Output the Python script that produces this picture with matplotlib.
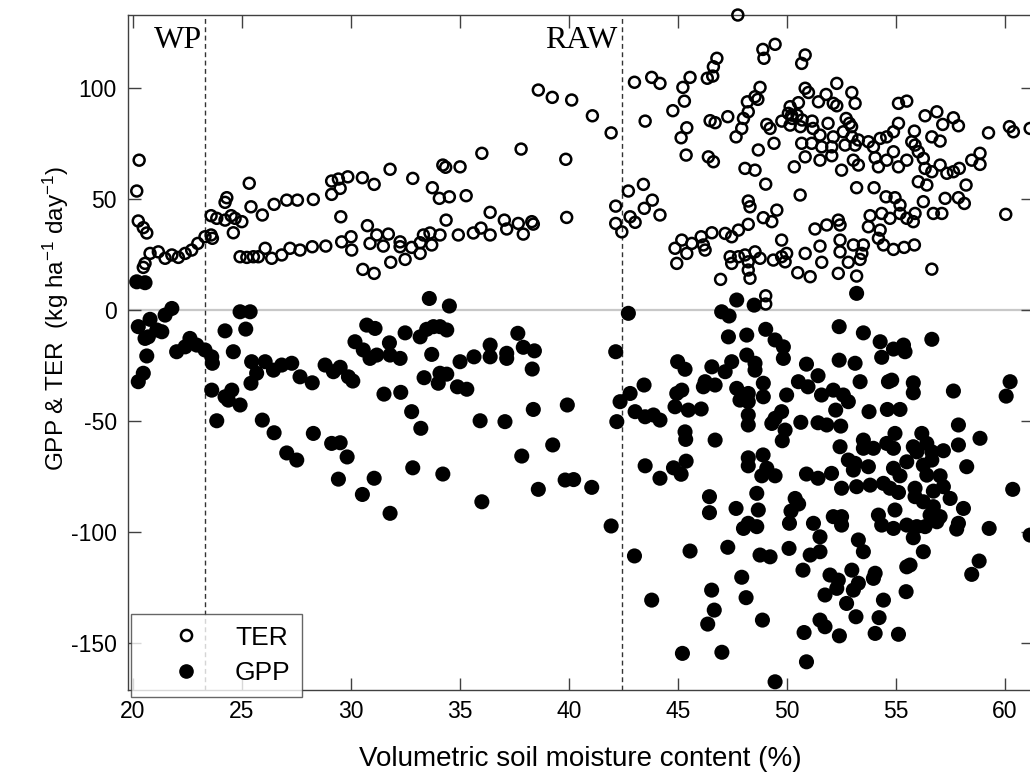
import matplotlib
matplotlib.use("Agg")
import matplotlib.pyplot as plt
from matplotlib.lines import Line2D

plt.rcParams['font.family'] = ['Liberation Sans', 'DejaVu Sans']
plt.rcParams['mathtext.fontset'] = 'custom'
plt.rcParams['mathtext.rm'] = 'Liberation Sans'
plt.rcParams['mathtext.it'] = 'Liberation Sans:italic'
plt.rcParams['axes.unicode_minus'] = False

# ---------------- data ----------------
ter_x = [20.28, 20.17, 20.24, 20.47, 20.63, 25.33, 24.30, 24.22, 23.58, 23.84, 24.22, 24.50, 24.68, 24.99,
         25.41, 25.93, 26.47, 27.05, 27.54, 28.27, 29.11, 29.42, 29.85, 29.50, 29.11, 29.53, 20.78, 21.16,
         21.47, 21.78, 22.08, 22.39, 22.69, 22.97, 23.30, 23.58, 23.64, 20.55, 20.47, 24.60, 24.91, 25.22,
         25.52, 25.75, 26.06, 26.36, 26.82, 27.20, 27.66, 28.22, 28.84, 29.57, 30.00, 30.03, 38.59, 39.23,
         40.12, 36.00, 37.80, 39.85, 31.79, 30.52, 31.06, 32.83, 34.21, 34.34, 35.00, 33.73, 34.05, 34.51,
         35.28, 36.38, 37.03, 37.67, 38.29, 38.36, 39.89, 34.36, 30.75, 31.18, 31.71, 33.32, 33.62, 34.08,
         34.92, 35.61, 35.96, 36.38, 37.14, 37.90, 30.87, 31.48, 32.25, 32.25, 32.78, 33.17, 33.17, 33.70,
         32.48, 31.82, 30.54, 31.06, 47.74, 49.45, 48.89, 48.94, 46.78, 46.62, 46.59, 46.34, 43.00, 43.79,
         44.17, 45.55, 45.22, 45.29, 44.76, 41.07, 41.93, 43.49, 46.47, 46.70, 47.28, 48.76, 48.53, 48.66,
         48.18, 48.22, 48.00, 47.92, 47.66, 45.40, 45.14, 45.37, 46.39, 46.62, 48.68, 49.40, 49.07, 49.22,
         48.07, 48.53, 49.02, 50.33, 50.14, 50.06, 50.21, 49.76, 50.14, 50.52, 50.83, 50.67, 50.83, 50.67,
         50.83, 50.60, 42.72, 43.41, 43.82, 42.14, 43.45, 44.17, 42.80, 43.03, 42.14, 48.22, 48.30, 49.53,
         48.91, 49.30, 48.22, 42.42, 45.17, 44.86, 44.94, 45.40, 45.63, 46.06, 46.16, 46.24, 46.55, 47.16,
         47.46, 47.77, 49.75, 47.39, 47.46, 47.77, 48.07, 48.22, 48.22, 48.30, 48.53, 48.76, 49.37, 49.75,
         49.98, 49.91, 50.49, 50.83, 46.95, 49.02, 49.02, 52.28, 50.98, 51.79, 52.97, 51.44, 52.12, 52.28,
         53.12, 55.11, 55.49, 56.33, 56.87, 57.63, 57.14, 57.86, 59.24, 60.20, 60.38, 61.15, 50.23, 50.46,
         50.69, 51.15, 50.61, 51.19, 51.88, 52.71, 52.86, 52.96, 52.58, 51.51, 52.12, 52.97, 53.27, 51.13,
         51.59, 52.05, 52.66, 53.12, 53.73, 54.27, 54.57, 54.88, 55.11, 55.84, 55.72, 55.87, 53.96, 54.88,
         51.51, 52.05, 53.04, 53.27, 52.50, 54.04, 54.19, 54.57, 55.11, 55.49, 56.02, 56.25, 56.33, 56.64,
         57.02, 57.33, 57.63, 57.90, 56.64, 57.02, 58.47, 58.85, 58.85, 56.02, 56.41, 53.19, 53.99, 54.54,
         54.95, 55.18, 56.25, 57.25, 57.86, 58.21, 58.13, 60.03, 53.81, 54.34, 54.72, 55.18, 55.49, 55.87,
         55.79, 56.71, 57.10, 51.28, 51.82, 52.35, 52.43, 53.73, 54.27, 51.51, 52.43, 52.43, 53.04, 53.50,
         53.43, 53.35, 52.81, 51.59, 51.06, 52.35, 53.19, 54.19, 54.42, 54.88, 55.37, 55.84, 56.64]
ter_y = [67.3, 53.4, 39.9, 36.9, 34.5, 56.9, 50.4, 48.3, 42.3, 41.1, 40.3, 42.3, 41.1, 39.6,
         46.3, 42.6, 47.4, 49.3, 49.3, 49.6, 57.9, 58.8, 59.8, 54.6, 51.9, 41.8, 25.3, 26.0,
         23.1, 24.6, 23.5, 25.3, 26.8, 29.8, 32.8, 33.6, 32.1, 20.8, 19.0, 34.6, 23.8, 23.5,
         23.8, 23.8, 27.6, 23.1, 24.6, 27.6, 26.8, 28.3, 28.6, 30.5, 32.8, 26.8, 98.9, 95.6,
         94.4, 70.4, 72.3, 67.7, 63.2, 59.4, 56.4, 59.1, 65.1, 64.1, 64.3, 54.9, 50.1, 50.8,
         51.3, 43.8, 40.3, 38.8, 39.6, 38.5, 41.5, 40.3, 37.8, 33.6, 34.0, 33.6, 34.5, 33.6,
         33.6, 34.5, 36.7, 33.6, 36.3, 34.0, 29.8, 28.6, 30.5, 28.3, 28.0, 30.1, 25.3, 29.1,
         22.6, 21.3, 18.1, 16.3, 132.7, 119.5, 117.2, 113.2, 113.2, 109.4, 105.2, 104.2, 102.4, 104.6,
         101.9, 104.6, 100.1, 93.9, 89.6, 87.3, 79.6, 84.9, 85.1, 84.2, 86.9, 100.1, 95.9, 94.7,
         93.6, 89.1, 86.1, 81.6, 77.8, 81.9, 77.4, 69.6, 68.8, 66.6, 71.9, 74.9, 83.4, 81.6,
         63.6, 62.8, 56.5, 64.3, 91.4, 88.4, 87.6, 84.9, 83.1, 93.2, 99.7, 110.9, 114.7, 74.9,
         68.8, 51.6, 53.4, 56.4, 49.3, 46.6, 45.6, 42.6, 41.8, 39.3, 38.8, 48.9, 46.3, 44.8,
         41.4, 39.6, 38.4, 35.0, 31.3, 27.6, 20.8, 25.3, 29.8, 32.8, 29.1, 26.8, 34.6, 34.3,
         32.8, 35.8, 31.3, 23.8, 20.8, 23.8, 24.6, 21.5, 17.8, 14.1, 26.0, 23.1, 22.3, 23.8,
         25.3, 21.5, 16.6, 25.3, 13.6, 6.2, 2.5, 101.9, 97.8, 96.9, 97.8, 93.6, 92.9, 91.8,
         92.9, 92.9, 93.9, 87.3, 89.1, 86.4, 83.4, 82.8, 79.6, 82.4, 80.1, 81.6, 86.1, 87.6,
         85.4, 84.9, 82.4, 81.6, 83.9, 86.1, 83.9, 82.4, 80.1, 78.6, 77.8, 77.8, 76.4, 74.9,
         73.3, 73.3, 74.1, 74.1, 75.6, 77.1, 77.8, 80.1, 83.9, 80.4, 75.6, 74.1, 73.3, 71.1,
         67.3, 69.3, 67.3, 65.1, 62.8, 68.4, 64.3, 67.3, 64.3, 67.3, 71.1, 68.1, 63.6, 62.1,
         65.1, 61.4, 62.1, 63.6, 77.8, 75.9, 67.3, 70.4, 65.4, 57.6, 56.1, 54.9, 54.9, 50.8,
         50.4, 47.1, 48.6, 50.1, 50.4, 56.1, 47.8, 42.9, 42.3, 43.3, 41.1, 43.3, 41.1, 43.3,
         39.6, 43.3, 43.3, 36.3, 38.1, 40.3, 38.1, 37.3, 35.8, 28.6, 31.3, 26.0, 29.1, 29.1,
         25.3, 22.6, 21.3, 21.3, 14.8, 16.3, 15.1, 32.1, 29.1, 27.1, 28.0, 29.1, 18.2]

gpp_x = [20.17, 20.55, 21.78, 21.47, 20.24, 20.78, 21.09, 21.32, 20.70, 20.55, 20.63, 20.47, 20.24, 22.00,
         22.61, 22.92, 23.30, 23.61, 23.64, 22.39, 24.91, 25.37, 24.22, 25.17, 24.60, 25.44, 26.06, 25.67,
         25.41, 26.44, 26.82, 27.28, 27.66, 28.22, 28.81, 29.50, 29.19, 29.88, 30.18, 23.61, 24.22, 24.53,
         24.37, 24.91, 23.84, 25.93, 26.47, 28.27, 29.11, 29.50, 27.05, 27.51, 29.82, 29.42, 33.59, 34.51,
         30.72, 31.10, 32.48, 33.17, 33.47, 33.78, 34.08, 34.39, 30.56, 30.87, 31.18, 31.76, 31.79, 32.25,
         33.70, 35.00, 35.64, 36.38, 36.38, 37.14, 37.14, 37.65, 37.90, 38.41, 38.31, 30.08, 33.35, 34.08,
         34.39, 34.00, 34.88, 35.31, 31.51, 32.28, 32.78, 33.20, 35.92, 37.06, 38.36, 39.92, 39.25, 37.83,
         31.06, 30.52, 31.79, 32.83, 34.21, 36.00, 38.59, 39.82, 40.21, 41.04, 41.93, 43.49, 44.17, 44.79,
         45.14, 45.37, 43.00, 43.79, 45.55, 45.20, 46.44, 46.44, 47.66, 48.00, 48.22, 48.61, 48.61, 48.68,
         47.28, 48.76, 49.22, 50.09, 47.92, 46.54, 48.12, 46.66, 46.36, 48.87, 47.01, 49.45, 48.22, 48.22,
         48.90, 49.07, 48.84, 49.45, 50.37, 50.53, 50.18, 50.11, 50.89, 50.73, 50.78, 50.89, 47.69, 48.49,
         42.72, 47.00, 47.34, 42.14, 47.31, 48.15, 49.02, 49.45, 49.83, 49.83, 44.98, 45.32, 46.55, 47.16,
         47.46, 48.15, 48.53, 48.53, 46.24, 46.70, 46.16, 47.69, 47.84, 48.22, 48.22, 48.91, 48.91, 49.98,
         50.52, 50.89, 43.44, 42.80, 42.34, 44.94, 45.17, 44.86, 43.03, 43.49, 43.87, 44.17, 45.47, 46.06,
         42.19, 48.22, 48.22, 49.75, 49.45, 49.30, 49.91, 49.78, 50.63, 45.32, 45.35, 46.70, 53.19, 52.39,
         53.50, 54.27, 54.34, 54.88, 55.34, 55.41, 56.64, 52.39, 53.12, 51.42, 50.96, 51.58, 52.12, 52.58,
         52.81, 52.23, 53.35, 54.65, 54.80, 55.79, 55.79, 57.63, 60.23, 60.05, 53.76, 54.60, 55.18, 51.42,
         51.82, 52.46, 57.86, 58.85, 57.86, 56.18, 54.95, 52.43, 53.50, 53.50, 53.96, 54.57, 54.88, 55.79,
         56.41, 55.95, 56.64, 57.17, 52.81, 53.12, 53.73, 51.42, 52.04, 52.50, 53.04, 53.19, 53.81, 54.42,
         54.72, 55.11, 54.88, 55.18, 55.49, 56.25, 56.64, 56.41, 55.87, 55.87, 57.02, 57.17, 56.71, 57.48,
         56.25, 56.71, 56.56, 57.02, 56.87, 58.09, 57.86, 57.78, 58.24, 60.35, 59.27, 61.15, 51.21, 51.51,
         51.06, 51.51, 52.12, 52.50, 52.50, 53.27, 53.50, 54.19, 54.34, 54.95, 54.88, 55.49, 55.95, 56.33,
         55.79, 56.25, 55.49, 55.64, 55.46, 54.04, 53.96, 52.97, 51.97, 52.35, 52.28, 51.74, 53.27, 53.04,
         52.73, 53.16, 54.42, 54.22, 54.04, 55.11, 51.51, 51.74, 52.40, 58.81, 58.47]
gpp_y = [12.5, 12.1, 0.5, -2.5, -7.7, -4.4, -9.2, -10.0, -12.3, -13.0, -20.9, -28.7, -32.5, -19.0,
         -13.0, -16.0, -18.2, -21.3, -24.2, -16.8, -1.0, -1.0, -9.6, -8.8, -19.0, -23.5, -23.5, -28.7,
         -33.2, -27.3, -25.0, -24.2, -30.3, -33.0, -25.0, -26.0, -28.0, -30.3, -14.5, -36.3, -39.3, -36.3,
         -40.8, -43.0, -50.1, -49.8, -55.5, -55.8, -60.3, -60.0, -64.6, -67.8, -66.4, -76.4, 5.0, 1.6,
         -7.0, -8.5, -10.5, -12.3, -8.9, -7.7, -7.7, -9.2, -18.2, -22.0, -20.5, -15.0, -20.5, -22.0,
         -20.2, -23.5, -21.3, -16.0, -21.3, -19.7, -22.0, -10.7, -17.0, -18.6, -26.8, -32.2, -30.7, -28.7,
         -29.1, -33.2, -34.8, -35.9, -38.1, -37.3, -46.0, -53.5, -50.1, -50.5, -45.0, -43.0, -61.0, -66.0,
         -76.0, -83.3, -91.8, -71.3, -74.1, -86.6, -81.0, -76.8, -76.6, -80.1, -97.5, -70.4, -76.0, -71.3,
         -74.2, -68.3, -111.0, -130.9, -108.8, -154.9, -84.3, -91.5, -89.6, -98.6, -96.3, -97.8, -82.8, -90.3,
         -107.1, -110.6, -111.4, -107.6, -120.6, -126.4, -129.8, -135.4, -141.7, -139.9, -154.4, -167.7, -66.8, -70.4,
         -65.5, -71.5, -74.9, -74.9, -85.1, -87.6, -90.8, -96.3, -74.1, -117.4, -145.5, -158.7, 4.3, 2.0,
         -1.7, -1.0, -2.9, -19.0, -12.3, -11.5, -8.9, -13.7, -16.8, -22.0, -23.5, -26.9, -25.8, -28.0,
         -23.5, -20.5, -24.2, -27.3, -32.5, -34.0, -34.8, -35.5, -40.8, -37.8, -41.5, -33.2, -39.3, -38.5,
         -32.5, -24.6, -34.0, -37.8, -41.5, -37.8, -36.3, -43.8, -46.0, -48.3, -47.5, -49.8, -45.3, -44.8,
         -50.5, -47.5, -52.0, -46.0, -49.0, -51.3, -54.3, -59.1, -50.8, -55.1, -58.5, -58.8, 7.3, -7.7,
         -10.5, -14.5, -21.5, -17.8, -16.0, -19.0, -13.4, -22.8, -24.2, -29.8, -34.8, -38.5, -36.3, -38.5,
         -41.5, -45.3, -32.5, -32.5, -31.8, -33.0, -37.5, -36.7, -32.5, -39.0, -46.0, -45.0, -45.0, -51.0,
         -52.0, -52.5, -52.0, -58.0, -61.0, -55.8, -55.8, -61.8, -58.8, -62.5, -62.5, -60.3, -62.5, -61.8,
         -60.3, -64.1, -64.1, -63.6, -67.8, -69.3, -70.8, -76.0, -73.8, -80.5, -72.3, -79.8, -79.1, -78.3,
         -80.5, -82.4, -71.5, -74.9, -68.6, -70.1, -67.8, -74.6, -80.5, -84.3, -74.9, -79.8, -81.8, -85.1,
         -86.6, -88.8, -92.6, -93.3, -95.6, -89.6, -96.3, -98.9, -70.8, -81.0, -98.6, -101.6, -96.3, -102.4,
         -110.6, -109.1, -93.3, -93.3, -97.1, -103.8, -109.1, -92.6, -97.1, -90.3, -98.6, -97.1, -97.8, -97.8,
         -102.8, -109.1, -115.9, -115.1, -127.1, -118.8, -121.1, -117.4, -119.6, -121.9, -125.6, -128.6, -123.3, -126.4,
         -132.4, -138.4, -130.9, -138.8, -145.9, -146.3, -139.9, -142.9, -147.0, -113.3, -119.3]

wp_x = 23.3
raw_x = 42.45
x_ticks = [20, 25, 30, 35, 40, 45, 50, 55, 60]
y_ticks = [-150, -100, -50, 0, 50, 100]

# ---------------- figure ----------------
fig = plt.figure(figsize=(10.3, 7.78), dpi=100)
ax = fig.add_axes([0.1243, 0.1131, 0.8786, 0.8676])

ax.axhline(0, color='#c8c8c8', lw=1.6, zorder=1)
for xv in (wp_x, raw_x):
    ax.axvline(xv, color='#333333', lw=1.0, ls=(0, (3.5, 2.5)), zorder=1)

ax.scatter(ter_x, ter_y, s=62, facecolors='none', edgecolors='black', linewidths=1.8,
           zorder=3, clip_on=False)
ax.scatter(gpp_x, gpp_y, s=118, facecolors='black', edgecolors='none', zorder=3, clip_on=False)

ax.text(20.96, 117.8, 'WP', family='Liberation Serif', fontsize=23, ha='left', va='baseline')
ax.text(38.90, 117.8, 'RAW', family='Liberation Serif', fontsize=23, ha='left', va='baseline')

ax.set_xlim(19.77, 61.28)
ax.set_ylim(-171.4, 132.7)
ax.set_xticks(x_ticks)
ax.set_yticks(y_ticks)
ax.tick_params(direction='in', length=9, width=1, top=True, right=True,
               labelsize=16.5, colors='#404040', labelcolor='black')
ax.tick_params(axis='x', pad=7)
ax.tick_params(axis='y', pad=8)
for sp in ax.spines.values():
    sp.set_color('#404040')
    sp.set_linewidth(1.0)

ax.set_xlabel('Volumetric soil moisture content (%)', fontsize=20, labelpad=17)
ax.set_ylabel('GPP & TER  (kg ha$^{-1}$ day$^{-1}$)', fontsize=17.5)
ax.yaxis.set_label_coords(-0.063, 0.551)

handles = [Line2D([], [], ls='none', marker='o', ms=8, mfc='none', mec='black', mew=1.8),
           Line2D([], [], ls='none', marker='o', ms=9.5, mfc='black', mec='black')]
leg = ax.legend(handles, ['TER', 'GPP'], loc='upper left', bbox_to_anchor=(0.0033, 0.1126),
                fontsize=19, frameon=True, fancybox=False, borderaxespad=0,
                handletextpad=0.2, labelspacing=0.43, borderpad=0.44, handlelength=3.3)
leg.get_frame().set_edgecolor('#404040')
leg.get_frame().set_linewidth(1.0)
leg.set_zorder(5)

fig.savefig('out.png', dpi=100)
